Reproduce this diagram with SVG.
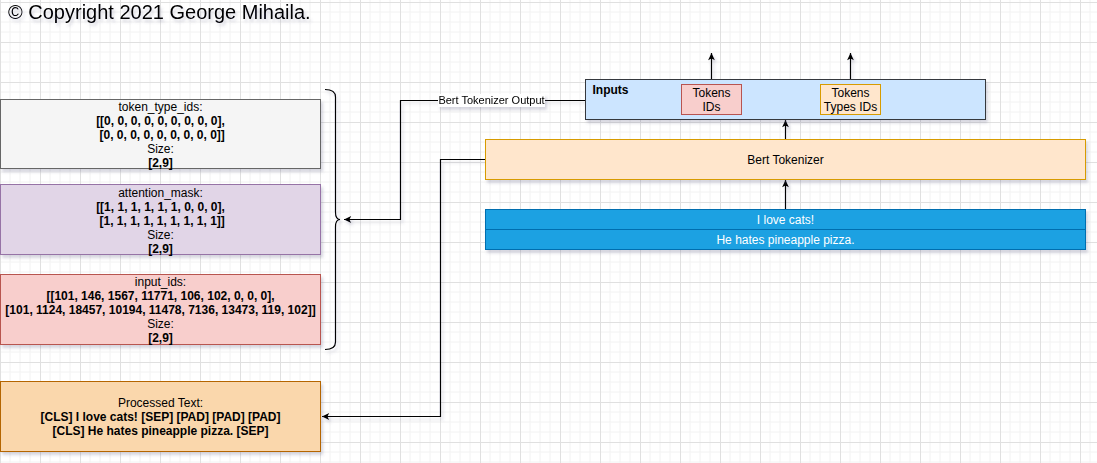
<svg xmlns="http://www.w3.org/2000/svg" width="1097" height="463" viewBox="0 0 1097 463">
<defs>
  <pattern id="grid" x="0" y="2" width="40" height="40" patternUnits="userSpaceOnUse">
    <path d="M10,0V40M20,0V40M30,0V40M0,10H40M0,20H40M0,30H40" stroke="#f2f2f2" stroke-width="1" fill="none"/>
    <path d="M0.5,0V40M0,0.5H40" stroke="#e0e0e0" stroke-width="1" fill="none"/>
  </pattern>
  <filter id="sh" x="-10%" y="-10%" width="130%" height="150%">
    <feDropShadow dx="2" dy="3" stdDeviation="1.5" flood-color="#5a5a80" flood-opacity="0.25"/>
  </filter>
  <marker id="arr" viewBox="0 0 10 10" refX="9" refY="5" markerWidth="9" markerHeight="9" markerUnits="userSpaceOnUse" orient="auto">
    <path d="M1,1.2 L9,5 L1,8.8 L3,5 Z" fill="#000"/>
  </marker>
  <style>
    text{font-family:"Liberation Sans",Arial,Helvetica,sans-serif;fill:#000}
    .t{font-size:12px;text-anchor:middle}
    .b{font-weight:bold}
    .w{fill:#fff}
    .conn{fill:none;stroke:#000;stroke-width:1.2}
  </style>
</defs>
<rect x="0" y="0" width="1097" height="463" fill="#fff"/>
<rect x="0" y="0" width="1097" height="463" fill="url(#grid)"/>

<g id="copyright" filter="url(#sh)">
  <text x="8" y="19" font-size="20">© Copyright 2021 George Mihaila.</text>
</g>

<g id="connectors">
  <g filter="url(#sh)">
    <path class="conn" d="M585.5,100.5 H400.5 V219.5 H344" marker-end="url(#arr)"/>
    <path class="conn" d="M485.5,159.5 H440.5 V416.5 H322" marker-end="url(#arr)"/>
    <path class="conn" d="M711.5,84.5 V53" marker-end="url(#arr)"/>
    <path class="conn" d="M850.5,84.5 V53" marker-end="url(#arr)"/>
    <path class="conn" d="M785.5,139.5 V120" marker-end="url(#arr)"/>
    <path class="conn" d="M785.5,209.5 V180" marker-end="url(#arr)"/>
  </g>
  <g filter="url(#sh)">
    <rect x="438" y="94" width="107" height="13" fill="#fff"/>
    <text x="491.5" y="104" font-size="11" text-anchor="middle">Bert Tokenizer Output</text>
  </g>
</g>

<g id="brace" filter="url(#sh)">
  <path d="M325,89.5 Q335.5,89.5 335.5,97 V212 Q335.5,219.5 340,219.5 Q335.5,219.5 335.5,227 V342 Q335.5,349.5 325,349.5" fill="none" stroke="#000" stroke-width="1.2"/>
</g>

<g id="token_type_ids">
  <rect x="0.5" y="99.5" width="320" height="69" fill="#f5f5f5" stroke="#666666" filter="url(#sh)"/>
  <text class="t" x="160.5" y="111">token_type_ids:</text>
  <text class="t b" x="160.5" y="125">[[0, 0, 0, 0, 0, 0, 0, 0, 0],</text>
  <text class="t b" x="160.5" y="139" xml:space="preserve"> [0, 0, 0, 0, 0, 0, 0, 0, 0]]</text>
  <text class="t" x="160.5" y="153">Size:</text>
  <text class="t b" x="160.5" y="167">[2,9]</text>
</g>

<g id="attention_mask">
  <rect x="0.5" y="184.5" width="320" height="70" fill="#e1d5e7" stroke="#9673a6" filter="url(#sh)"/>
  <text class="t" x="160.5" y="196.5">attention_mask:</text>
  <text class="t b" x="160.5" y="210.5">[[1, 1, 1, 1, 1, 1, 0, 0, 0],</text>
  <text class="t b" x="160.5" y="224.5" xml:space="preserve"> [1, 1, 1, 1, 1, 1, 1, 1, 1]]</text>
  <text class="t" x="160.5" y="238.5">Size:</text>
  <text class="t b" x="160.5" y="252.5">[2,9]</text>
</g>

<g id="input_ids">
  <rect x="0.5" y="274.5" width="320" height="70" fill="#f8cecc" stroke="#b85450" filter="url(#sh)"/>
  <text class="t" x="160.5" y="286">input_ids:</text>
  <text class="t b" x="160.5" y="300">[[101, 146, 1567, 11771, 106, 102, 0, 0, 0],</text>
  <text class="t b" x="160.5" y="314">[101, 1124, 18457, 10194, 11478, 7136, 13473, 119, 102]]</text>
  <text class="t" x="160.5" y="328">Size:</text>
  <text class="t b" x="160.5" y="342">[2,9]</text>
</g>

<g id="processed_text">
  <rect x="0.5" y="381.5" width="320" height="70" fill="#fad7ac" stroke="#b46504" filter="url(#sh)"/>
  <text class="t" x="160.5" y="406.5">Processed Text:</text>
  <text class="t b" x="160.5" y="420.5">[CLS] I love cats! [SEP] [PAD] [PAD] [PAD]</text>
  <text class="t b" x="160.5" y="434.5">[CLS] He hates pineapple pizza. [SEP]</text>
</g>

<g id="inputs">
  <rect x="585.5" y="79.5" width="400" height="40" fill="#cce5ff" stroke="#36393d" filter="url(#sh)"/>
  <text class="b" x="592.5" y="94" font-size="12">Inputs</text>
</g>

<g id="tokens_ids">
  <rect x="681.5" y="84.5" width="60" height="30" fill="#f8cecc" stroke="#b85450"/>
  <text class="t" x="711.5" y="96.5">Tokens</text>
  <text class="t" x="711.5" y="111">IDs</text>
</g>

<g id="tokens_types_ids">
  <rect x="820.5" y="84.5" width="60" height="30" fill="#ffe6cc" stroke="#d79b00"/>
  <text class="t" x="850.5" y="96.5">Tokens</text>
  <text class="t" x="850.5" y="111">Types IDs</text>
</g>

<g id="bert_tokenizer">
  <rect x="485.5" y="139.5" width="600" height="40" fill="#ffe6cc" stroke="#d79b00" filter="url(#sh)"/>
  <text class="t" x="785.5" y="164">Bert Tokenizer</text>
</g>

<g id="sentences">
  <g filter="url(#sh)">
    <rect x="485.5" y="209.5" width="600" height="20" fill="#1ba1e2" stroke="#006eaf"/>
    <rect x="485.5" y="229.5" width="600" height="20" fill="#1ba1e2" stroke="#006eaf"/>
  </g>
  <text class="t w" x="785.5" y="223.5">I love cats!</text>
  <text class="t w" x="785.5" y="243.5">He hates pineapple pizza.</text>
</g>
</svg>
